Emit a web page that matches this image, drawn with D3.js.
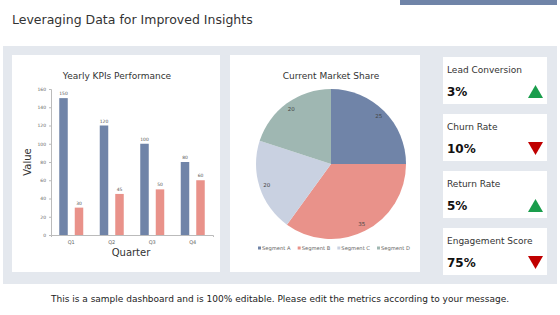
<!DOCTYPE html>
<html>
<head>
<meta charset="utf-8">
<script src="https://cdn.jsdelivr.net/npm/d3@7"></script>
<style>
  body { margin: 0; background: #fff; }
  svg { display: block; font-family: "DejaVu Sans", sans-serif; }
</style>
</head>
<body>
<div id="chart"></div>
<script>
// data
const quarters = ["Q1", "Q2", "Q3", "Q4"];
const seriesA = [150, 120, 100, 80];
const seriesB = [30, 45, 50, 60];
const yTicks = [0, 20, 40, 60, 80, 100, 120, 140, 160];

const segments = ["Segment A", "Segment B", "Segment C", "Segment D"];
const shares = [25, 35, 20, 20];

const kpiNames = ["Lead Conversion", "Churn Rate", "Return Rate", "Engagement Score"];
const kpiValues = ["3%", "10%", "5%", "75%"];
const kpiUp = [true, false, true, false];

const blue = "#7084a8", red = "#e9928a";
const pieColors = [blue, red, "#c9d1e1", "#9fb7b2"];

const svg = d3.select("#chart")
  .append("svg")
    .attr("width", 560)
    .attr("height", 315);

// header
svg.append("rect").attr("x", 400).attr("y", 0).attr("width", 157).attr("height", 5).attr("fill", "#7084a8");
svg.append("text")
  .attr("x", 12).attr("y", 24)
  .attr("font-size", 12.5)
  .attr("fill", "#333")
  .text("Leveraging Data for Improved Insights");

// background panel
svg.append("rect").attr("x", 3).attr("y", 46).attr("width", 554).attr("height", 238).attr("fill", "#e4e8ee");
svg.append("rect").attr("x", 12).attr("y", 55).attr("width", 208).attr("height", 217).attr("fill", "#fff");
svg.append("rect").attr("x", 230).attr("y", 55).attr("width", 190).attr("height", 217).attr("fill", "#fff");

// ---------- bar chart ----------
const x = d3.scaleBand().domain(quarters).range([51, 213]).paddingInner(0).paddingOuter(0);
const y = d3.scaleLinear().domain([0, 160]).range([235, 89]);

svg.append("text")
  .attr("x", 117).attr("y", 79)
  .attr("text-anchor", "middle")
  .attr("font-size", 9)
  .attr("fill", "#333")
  .text("Yearly KPIs Performance");

const yAxis = svg.append("g")
  .attr("transform", "translate(51,0)")
  .call(d3.axisLeft(y).tickValues(yTicks).tickSize(2).tickPadding(3));
yAxis.select(".domain").attr("stroke", "#bbb");
yAxis.selectAll(".tick line").attr("stroke", "#bbb");
yAxis.selectAll("text").attr("font-size", 4.5).attr("fill", "#666").attr("font-family", "DejaVu Sans");

const xAxis = svg.append("g")
  .attr("transform", "translate(0,235)")
  .call(d3.axisBottom(x).tickSize(2).tickPadding(3));
xAxis.select(".domain").attr("stroke", "#bbb");
xAxis.selectAll(".tick line").remove();
xAxis.selectAll("text").attr("font-size", 5).attr("fill", "#666").attr("font-family", "DejaVu Sans");

const barW = 8.5;
const offA = x.bandwidth() / 2 - 12, offB = x.bandwidth() / 2 + 3.5;

svg.append("g").selectAll("rect")
  .data(quarters)
  .join("rect")
    .attr("x", d => x(d) + offA)
    .attr("y", (d, i) => y(seriesA[i]))
    .attr("width", barW)
    .attr("height", (d, i) => y(0) - y(seriesA[i]))
    .attr("fill", blue);

svg.append("g").selectAll("rect")
  .data(quarters)
  .join("rect")
    .attr("x", d => x(d) + offB)
    .attr("y", (d, i) => y(seriesB[i]))
    .attr("width", barW)
    .attr("height", (d, i) => y(0) - y(seriesB[i]))
    .attr("fill", red);

svg.append("g").selectAll("text")
  .data(quarters)
  .join("text")
    .attr("x", d => x(d) + offA + barW / 2)
    .attr("y", (d, i) => y(seriesA[i]) - 3)
    .attr("text-anchor", "middle")
    .attr("font-size", 4.5)
    .attr("fill", "#555")
    .text((d, i) => seriesA[i]);

svg.append("g").selectAll("text")
  .data(quarters)
  .join("text")
    .attr("x", d => x(d) + offB + barW / 2)
    .attr("y", (d, i) => y(seriesB[i]) - 3)
    .attr("text-anchor", "middle")
    .attr("font-size", 4.5)
    .attr("fill", "#555")
    .text((d, i) => seriesB[i]);

svg.append("text")
  .attr("transform", "translate(31,162) rotate(-90)")
  .attr("text-anchor", "middle")
  .attr("font-size", 10)
  .attr("fill", "#333")
  .text("Value");

svg.append("text")
  .attr("x", 131).attr("y", 256)
  .attr("text-anchor", "middle")
  .attr("font-size", 10)
  .attr("fill", "#333")
  .text("Quarter");

// ---------- pie chart ----------
svg.append("text")
  .attr("x", 331).attr("y", 79)
  .attr("text-anchor", "middle")
  .attr("font-size", 9)
  .attr("fill", "#333")
  .text("Current Market Share");

const pie = d3.pie().sort(null).value(d => d);
const arcs = pie(shares);
const r = 75;
const arc = d3.arc().innerRadius(0).outerRadius(r);
const labelArc = d3.arc().innerRadius(r * 0.9).outerRadius(r * 0.9);

const pieG = svg.append("g").attr("transform", "translate(331,164)");
pieG.selectAll("path")
  .data(arcs)
  .join("path")
    .attr("d", arc)
    .attr("fill", (d, i) => pieColors[i]);

pieG.selectAll("text")
  .data(arcs)
  .join("text")
    .attr("transform", d => `translate(${labelArc.centroid(d)})`)
    .attr("text-anchor", "middle")
    .attr("dy", "0.35em")
    .attr("font-size", 5.5)
    .attr("fill", "#444")
    .text(d => d.data);

// legend
const legX = d3.scalePoint().domain(segments).range([258, 377]);
const leg = svg.append("g").selectAll("g")
  .data(segments)
  .join("g")
    .attr("transform", d => `translate(${legX(d)},250)`);
leg.append("rect")
  .attr("x", 0).attr("y", -3.5).attr("width", 3).attr("height", 3)
  .attr("fill", (d, i) => pieColors[i]);
leg.append("text")
  .attr("x", 4).attr("y", 0)
  .attr("font-size", 5.2)
  .attr("fill", "#666")
  .text(d => d);

// ---------- KPI cards ----------
const cardY = d3.scaleBand().domain(kpiNames).range([57, 275]).paddingInner(0.175).paddingOuter(0);
const cards = svg.append("g").selectAll("g")
  .data(kpiNames)
  .join("g")
    .attr("transform", d => `translate(443,${cardY(d)})`);

cards.append("rect")
  .attr("width", 104).attr("height", cardY.bandwidth())
  .attr("fill", "#fff");
cards.append("text")
  .attr("x", 4).attr("y", 16)
  .attr("font-size", 9)
  .attr("fill", "#333")
  .text(d => d);
cards.append("text")
  .attr("x", 4).attr("y", 39)
  .attr("font-size", 12)
  .attr("font-weight", "bold")
  .attr("fill", "#111")
  .text((d, i) => kpiValues[i]);
cards.append("path")
  .attr("d", (d, i) => kpiUp[i]
    ? "M85,41 L100,41 L92.5,28 Z"
    : "M85,28 L100,28 L92.5,41 Z")
  .attr("fill", (d, i) => kpiUp[i] ? "#1a9d4c" : "#c00000");

// footer
svg.append("text")
  .attr("x", 280).attr("y", 302)
  .attr("text-anchor", "middle")
  .attr("font-size", 9)
  .attr("fill", "#222")
  .text("This is a sample dashboard and is 100% editable. Please edit the metrics according to your message.");
</script>
</body>
</html>
